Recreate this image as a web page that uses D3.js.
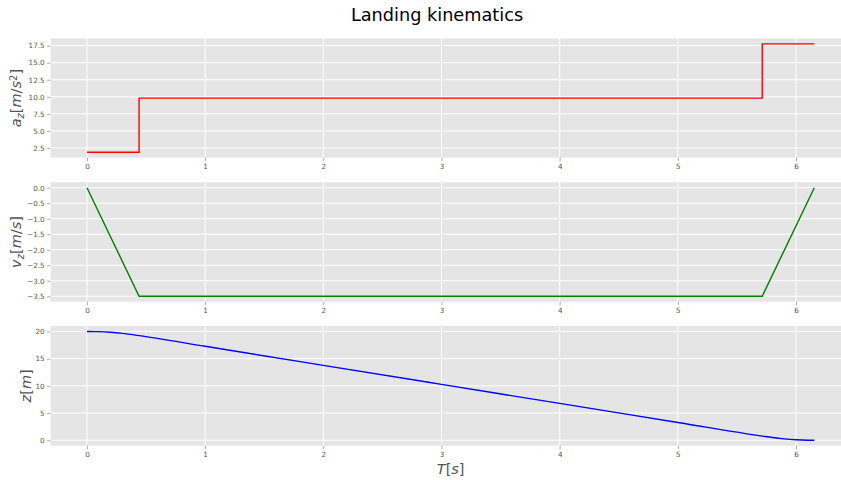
<!DOCTYPE html>
<html>
<head>
<meta charset="utf-8">
<script src="https://cdn.jsdelivr.net/npm/d3@7"></script>
<style>
  html, body { margin: 0; padding: 0; background: #fff; }
  svg { display: block; font-family: "DejaVu Sans", sans-serif; }
</style>
</head>
<body>
<svg id="chart" width="841" height="480"></svg>
<script>
// Phase switch times [s]
const stepTimes = [0, 0.441, 5.714, 6.155];
// Vertical acceleration per phase [m/s^2]
const accelValues = [1.87, 9.81, 17.75, 17.75];
// Vertical velocity at the phase boundaries [m/s]
const velocityValues = [0, -3.5, -3.5, 0];
// Altitude samples
const altTimes = [0, 0.1, 0.2, 0.3, 0.441, 1, 2, 3, 4, 5, 5.714, 5.8, 5.9, 6.0, 6.1, 6.155];
const altValues = [20, 19.96, 19.84, 19.64, 19.23, 17.27, 13.77, 10.27, 6.77, 3.27, 0.77, 0.50, 0.25, 0.095, 0.012, 0];
// Tick values
const xTicks = [0, 1, 2, 3, 4, 5, 6];
const accelTicks = [2.5, 5.0, 7.5, 10.0, 12.5, 15.0, 17.5];
const velocityTicks = [0.0, -0.5, -1.0, -1.5, -2.0, -2.5, -3.0, -3.5];
const altTicks = [0, 5, 10, 15, 20];

const svg = d3.select("#chart");
const W = 841;
const left = 50.6, right = 850.7;

function padded(ext) {
  const p = (ext[1] - ext[0]) * 0.05;
  return [ext[0] - p, ext[1] + p];
}

const x = d3.scaleLinear().domain(padded(d3.extent(stepTimes))).range([left, right]);

svg.append("text")
  .attr("x", 437).attr("y", 21)
  .attr("text-anchor", "middle")
  .attr("font-size", 17.7)
  .attr("fill", "#000")
  .text("Landing kinematics");

const clip = svg.append("defs").append("clipPath").attr("id", "fig")
  .append("rect").attr("x", 0).attr("y", 0).attr("width", W).attr("height", 480);

function panel(cfg) {
  const y = d3.scaleLinear().domain(padded(d3.extent(cfg.values))).range([cfg.bottom, cfg.top]);
  const g = svg.append("g");
  g.append("rect")
    .attr("x", left).attr("y", cfg.top)
    .attr("width", right - left).attr("height", cfg.bottom - cfg.top)
    .attr("fill", "#e5e5e5");
  // grid
  g.selectAll(".gx").data(xTicks).join("line")
    .attr("x1", d => x(d)).attr("x2", d => x(d))
    .attr("y1", cfg.top).attr("y2", cfg.bottom)
    .attr("stroke", "#fff").attr("stroke-width", 1);
  g.selectAll(".gy").data(cfg.ticks).join("line")
    .attr("x1", left).attr("x2", right)
    .attr("y1", d => y(d)).attr("y2", d => y(d))
    .attr("stroke", "#fff").attr("stroke-width", 1);

  // axes
  const xa = d3.axisBottom(x).tickValues(xTicks).tickFormat(d3.format("d")).tickSize(3.5).tickPadding(2.5);
  const gx = g.append("g").attr("transform", `translate(0,${cfg.bottom})`).call(xa);
  const ya = d3.axisLeft(y).tickValues(cfg.ticks).tickFormat(cfg.fmt).tickSize(3.5).tickPadding(2.5);
  const gy = g.append("g").attr("transform", `translate(${left},0)`).call(ya);
  [gx, gy].forEach(a => {
    a.select(".domain").remove();
    a.selectAll(".tick line").attr("stroke", "#999").attr("stroke-width", 0.8);
    a.selectAll(".tick text").attr("fill", "#555").attr("font-size", 7.2)
      .attr("font-family", "DejaVu Sans, sans-serif");
  });

  const line = d3.line().x(d => x(d[0])).y(d => y(d[1])).curve(cfg.curve);
  g.append("path")
    .datum(d3.zip(cfg.times, cfg.values))
    .attr("d", line)
    .attr("fill", "none")
    .attr("stroke", cfg.color)
    .attr("stroke-width", 1.4);

  // y label (mathtext-like)
  const lab = g.append("text")
    .attr("transform", `translate(${cfg.labelX},${(cfg.top + cfg.bottom) / 2}) rotate(-90)`)
    .attr("text-anchor", "middle")
    .attr("font-size", 14.5)
    .attr("fill", "#555");
  cfg.label.forEach(p => {
    const t = lab.append("tspan").text(p.t);
    if (p.i) t.attr("font-style", "italic");
    if (p.sub) t.attr("font-size", 10).attr("baseline-shift", "-25%");
    if (p.sup) t.attr("font-size", 10).attr("baseline-shift", "45%");
  });
  return y;
}

panel({
  top: 38.5, bottom: 157.7, times: stepTimes, values: accelValues, ticks: accelTicks,
  fmt: d3.format(".1f"), color: "#ff0000", curve: d3.curveStepAfter, labelX: 21,
  label: [{t: "a", i: true}, {t: "z", i: true, sub: true}, {t: "["}, {t: "m", i: true},
          {t: "/"}, {t: "s", i: true}, {t: "2", sup: true}, {t: "]"}]
});
panel({
  top: 182.3, bottom: 301.7, times: stepTimes, values: velocityValues, ticks: velocityTicks,
  fmt: d3.format(".1f"), color: "#008000", curve: d3.curveLinear, labelX: 21,
  label: [{t: "v", i: true}, {t: "z", i: true, sub: true}, {t: "["}, {t: "m", i: true},
          {t: "/"}, {t: "s", i: true}, {t: "]"}]
});
panel({
  top: 326, bottom: 445.7, times: altTimes, values: altValues, ticks: altTicks,
  fmt: d3.format("d"), color: "#0000ff", curve: d3.curveMonotoneX, labelX: 31,
  label: [{t: "z", i: true}, {t: "["}, {t: "m", i: true}, {t: "]"}]
});

svg.append("text")
  .attr("x", (left + right) / 2).attr("y", 474)
  .attr("text-anchor", "middle")
  .attr("font-size", 14.5)
  .attr("fill", "#555")
  .call(t => {
    t.append("tspan").attr("font-style", "italic").text("T");
    t.append("tspan").text("[");
    t.append("tspan").attr("font-style", "italic").text("s");
    t.append("tspan").text("]");
  });
</script>
</body>
</html>
